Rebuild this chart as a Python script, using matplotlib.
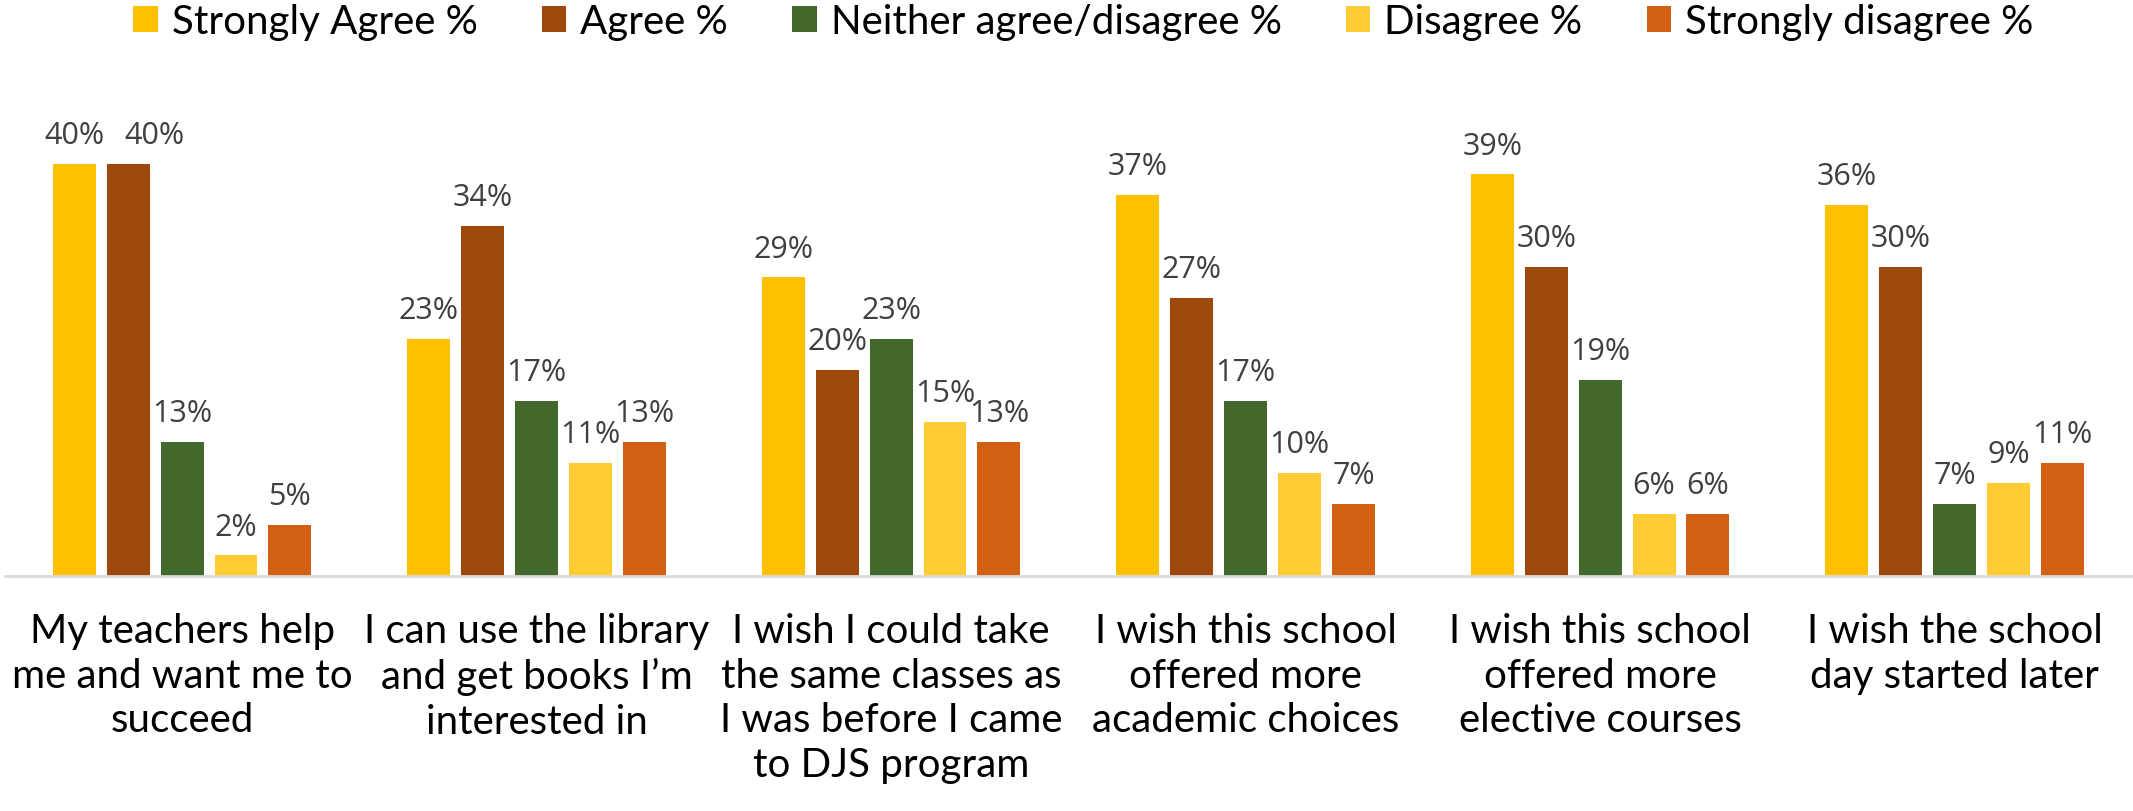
import matplotlib
matplotlib.use('Agg')
import matplotlib.pyplot as plt
import numpy as np

# Survey data (percent)
categories = [
    'My teachers help\nme and want me to\nsucceed',
    'I can use the library\nand get books I\u2019m\ninterested in',
    'I wish I could take\nthe same classes as\nI was before I came\nto DJS program',
    'I wish this school\noffered more\nacademic choices',
    'I wish this school\noffered more\nelective courses',
    'I wish the school\nday started later',
]
series_names = ['Strongly Agree %', 'Agree %', 'Neither agree/disagree %',
                'Disagree %', 'Strongly disagree %']
strongly_agree = [40, 23, 29, 37, 39, 36]
agree = [40, 34, 20, 27, 30, 30]
neither = [13, 17, 23, 17, 19, 7]
disagree = [2, 11, 15, 10, 6, 9]
strongly_disagree = [5, 13, 13, 7, 6, 11]

values = [strongly_agree, agree, neither, disagree, strongly_disagree]
colors = ['#FFC000', '#9E480E', '#43682B', '#FFCD33', '#D26012']

label_font = ['Lato', 'DejaVu Sans']

fig = plt.figure(figsize=(21.33, 8.12), dpi=100)
ax = fig.add_axes([0.0023, 0.2894, 0.9972, 0.5706])

x = np.arange(len(categories))
step = 0.152
width = 0.121
for i, (name, vals, col) in enumerate(zip(series_names, values, colors)):
    pos = x + (i - 2) * step
    bars = ax.bar(pos, vals, width, color=col, label=name)
    for j, (b, v) in enumerate(zip(bars, vals)):
        # two-digit label at the same height as the one on the left would collide,
        # so push it aside like Excel does
        dx = 0
        if i > 0 and values[i - 1][j] == v and v >= 10:
            dx = 19
        ax.annotate(f'{v}%', (b.get_x() + b.get_width() / 2, v),
                    xytext=(dx, 10), textcoords='offset points',
                    ha='center', va='bottom', fontsize=22,
                    family='Open Sans', color='#404040')

ax.set_xlim(-0.5, 5.5)
ax.set_ylim(0, 45)
ax.set_yticks([])
ax.set_xticks(x)
ax.set_xticklabels(categories, fontsize=29, family=label_font, linespacing=1.25)
ax.tick_params(axis='x', length=0, pad=26)
for s in ['top', 'right', 'left']:
    ax.spines[s].set_visible(False)
ax.spines['bottom'].set_color('#D9D9D9')
ax.spines['bottom'].set_linewidth(2)

fig.legend(loc='center', bbox_to_anchor=(0.508, 0.972), ncol=5,
           frameon=False, prop={'family': label_font, 'size': 29},
           handlelength=0.6, handleheight=0.6, handletextpad=0.35,
           columnspacing=1.6)

fig.savefig('out.png', dpi=100)
